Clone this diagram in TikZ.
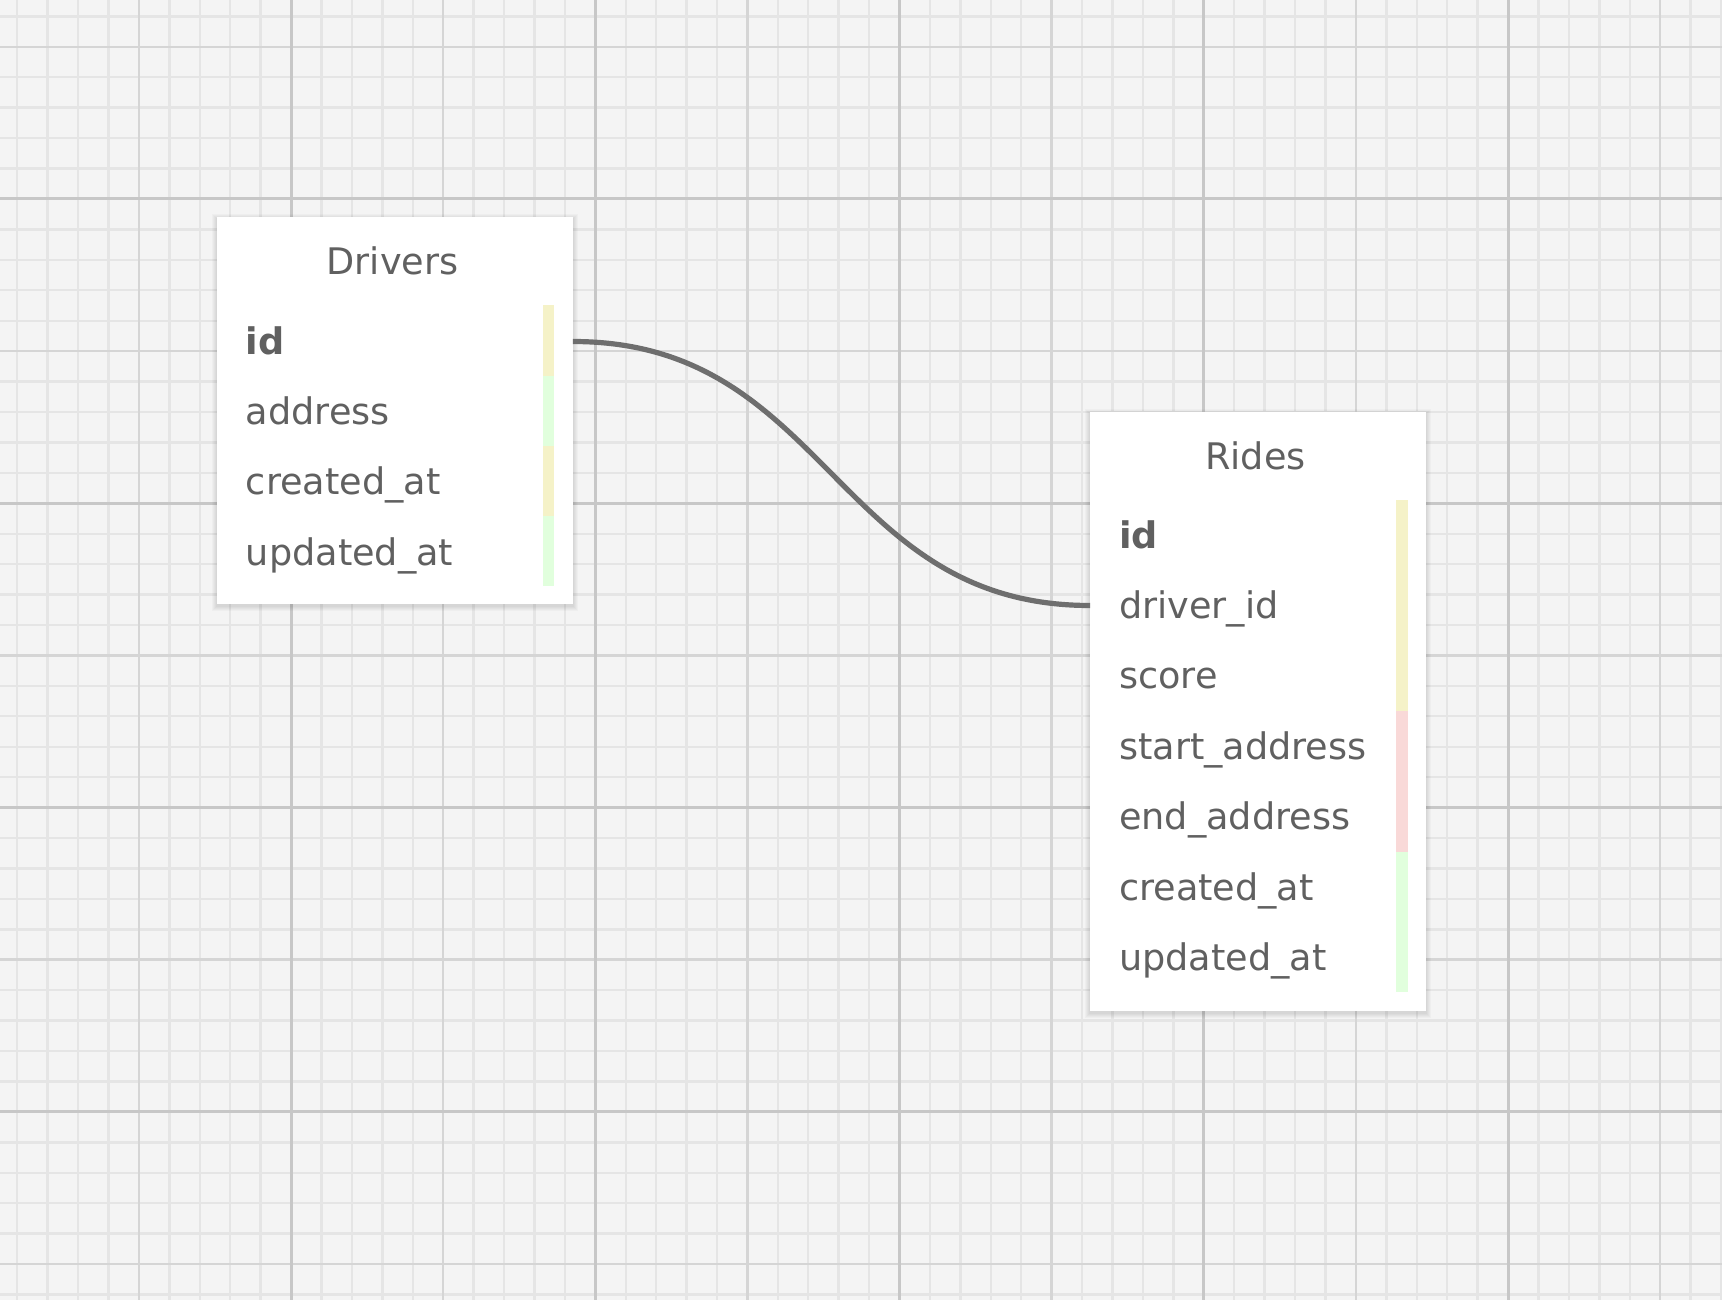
\documentclass[tikz,border=0pt]{standalone}
\usepackage{fontspec}
\setmainfont{DejaVu Sans}
\definecolor{bg}{RGB}{244,244,244}
\definecolor{gminor}{RGB}{229,229,229}
\definecolor{gmed}{RGB}{213,213,213}
\definecolor{gmajor}{RGB}{199,199,199}
\definecolor{txt}{RGB}{96,96,96}
\definecolor{linkc}{RGB}{110,110,110}
\definecolor{keyY}{RGB}{245,242,200}
\definecolor{keyG}{RGB}{225,255,221}
\definecolor{keyR}{RGB}{249,217,216}
\begin{document}
\begin{tikzpicture}[x=1pt,y=-1pt,
  fieldtext/.style={anchor=base west, inner sep=0pt, text=txt, font=\fontsize{36.6}{40}\selectfont},
  keytext/.style={fieldtext, font=\fontsize{36.6}{40}\selectfont\bfseries},
  titletext/.style={anchor=base, inner sep=0pt, text=txt, font=\fontsize{36.6}{40}\selectfont},
  tablebox/.style={anchor=north west, fill=white, draw=none, inner sep=0pt},
  shadowbox/.style={fill=black, opacity=0.025},
  minorline/.style={gminor, line width=2.4pt},
  medline/.style={gmed, line width=2.6pt},
  majorline/.style={gmajor, line width=3pt},
  connector/.style={linkc, line width=5.2pt}
]
\useasboundingbox (0,0) rectangle (1722,1300);
\fill[bg] (0,0) rectangle (1722,1300);
% grid
\foreach \i in {0,...,56} \draw[minorline] ({17.2+30.425*\i},0) -- ({17.2+30.425*\i},1300);
\foreach \j in {0,...,42} \draw[minorline] (0,{16.4+30.43*\j}) -- (1722,{16.4+30.43*\j});
\foreach \i in {4,14,24,34,44,54} \draw[medline] ({17.2+30.425*\i},0) -- ({17.2+30.425*\i},1300);
\foreach \j in {1,11,21,31,41} \draw[medline] (0,{16.4+30.43*\j}) -- (1722,{16.4+30.43*\j});
\foreach \i in {9,19,29,39,49} \draw[majorline] ({17.2+30.425*\i},0) -- ({17.2+30.425*\i},1300);
\foreach \j in {6,16,26,36} \draw[majorline] (0,{16.4+30.43*\j}) -- (1722,{16.4+30.43*\j});

% shadows
\foreach \e in {1,2,3,4,5} {
  \fill[shadowbox] ({217-\e},{217-\e+2}) rectangle ({572.5+\e},{604+\e+2});
  \fill[shadowbox] ({1090-\e},{412-\e+2}) rectangle ({1426+\e},{1010.5+\e+2});
}

% Drivers table
\node[tablebox, minimum width=355.5pt, minimum height=387pt] (drivers) at (217,217) {};
\fill[keyY] (542.7,305) rectangle (554.3,375.5);
\fill[keyG] (542.7,375.5) rectangle (554.3,446);
\fill[keyY] (542.7,446) rectangle (554.3,516);
\fill[keyG] (542.7,516) rectangle (554.3,586);
\node[titletext] (drivers-title) at (392.5,275) {Drivers};
\node[keytext] (drivers-id) at (245.7,354) {id};
\node[fieldtext] (drivers-address) at (245.7,424.3) {address};
\node[fieldtext] (drivers-created) at (245.7,494.6) {created\_at};
\node[fieldtext] (drivers-updated) at (245.7,565) {updated\_at};

% Rides table
\node[tablebox, minimum width=336pt, minimum height=598.5pt] (rides) at (1090,412) {};
\fill[keyY] (1396,500) rectangle (1407.7,711);
\fill[keyR] (1396,711) rectangle (1407.7,852);
\fill[keyG] (1396,852) rectangle (1407.7,992);
\node[titletext] (rides-title) at (1255.5,469) {Rides};
\node[keytext] (rides-id) at (1119,548) {id};
\node[fieldtext] (rides-driver) at (1119,618.4) {driver\_id};
\node[fieldtext] (rides-score) at (1119,688.8) {score};
\node[fieldtext] (rides-start) at (1119,759.2) {start\_address};
\node[fieldtext] (rides-end) at (1119,829.6) {end\_address};
\node[fieldtext] (rides-created) at (1119,900) {created\_at};
\node[fieldtext] (rides-updated) at (1119,970.4) {updated\_at};

% connector
\coordinate (from-id) at (drivers.east |- 0,341.5);
\coordinate (to-driver) at (rides.west |- 0,605.5);
\draw[connector] (from-id) .. controls +(255,0) and +(-255,0) .. (to-driver);
\end{tikzpicture}
\end{document}
